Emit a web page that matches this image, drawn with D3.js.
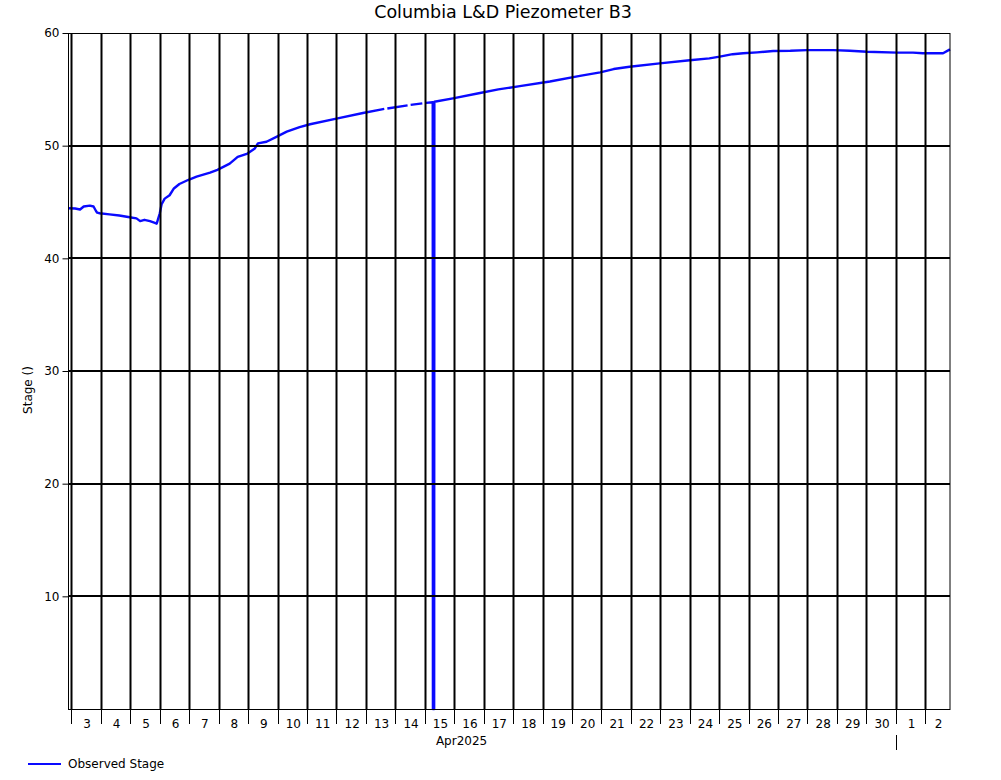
<!DOCTYPE html>
<html><head><meta charset="utf-8">
<script src="https://cdn.jsdelivr.net/npm/d3@7"></script>
<style>
body{margin:0;background:#fff;}
svg{display:block;font-family:"DejaVu Sans",Verdana,sans-serif;}
</style></head>
<body>
<svg id="chart" width="1001" height="780"></svg>
<script>
const title = "Columbia L&D Piezometer B3";
const yLabel = "Stage ()";
const seriesName = "Observed Stage";
const monthLabel = "Apr2025";
const yTicks = [10, 20, 30, 40, 50, 60];
const domainStart = "2025-04-02T22:00";
const domainEnd = "2025-05-02T20:10";
const times = [
 "2025-04-02T22:00","2025-04-03T03:00","2025-04-03T07:00","2025-04-03T10:00","2025-04-03T15:00",
 "2025-04-03T18:00","2025-04-03T20:00","2025-04-03T21:00","2025-04-03T23:00","2025-04-04T07:00",
 "2025-04-04T15:00","2025-04-04T23:30","2025-04-05T05:00","2025-04-05T08:00","2025-04-05T11:30",
 "2025-04-05T16:00","2025-04-05T20:00","2025-04-05T21:30","2025-04-06T00:00","2025-04-06T01:30",
 "2025-04-06T04:00","2025-04-06T08:00","2025-04-06T11:30","2025-04-06T16:00","2025-04-06T23:00",
 "2025-04-07T06:00","2025-04-07T17:00","2025-04-07T23:00","2025-04-08T09:00","2025-04-08T15:30",
 "2025-04-08T23:30","2025-04-09T05:30","2025-04-09T08:00","2025-04-09T15:00","2025-04-09T23:30",
 "2025-04-10T07:30","2025-04-10T18:00","2025-04-11T02:30","2025-04-12T00:00","2025-04-12T21:40",
 "2025-04-13T13:00","2025-04-13T15:00","2025-04-13T16:00","2025-04-13T17:30","2025-04-14T10:00",
 "2025-04-14T11:00","2025-04-14T12:30","2025-04-14T22:00","2025-04-14T23:00","2025-04-15T01:00",
 "2025-04-15T06:30","2025-04-15T06:40","2025-04-15T07:40","2025-04-15T07:50","2025-04-15T23:00",
 "2025-04-16T20:00","2025-04-17T12:00","2025-04-18T05:30","2025-04-19T06:00","2025-04-20T06:30",
 "2025-04-20T23:00","2025-04-21T10:00","2025-04-21T23:00","2025-04-22T23:30","2025-04-24T00:00",
 "2025-04-24T16:00","2025-04-25T00:30","2025-04-25T11:00","2025-04-25T19:30","2025-04-26T07:00",
 "2025-04-26T20:00","2025-04-27T10:00","2025-04-27T23:30","2025-04-28T21:00","2025-04-29T10:30",
 "2025-04-30T00:30","2025-05-01T01:00","2025-05-01T14:00","2025-05-01T22:00","2025-05-02T14:30",
 "2025-05-02T20:10"
];
const stage = [
 44.45,44.42,44.33,44.6,44.68,
 44.6,44.2,44.05,44.0,43.9,
 43.8,43.65,43.55,43.3,43.42,
 43.3,43.15,43.08,44.0,44.8,
 45.3,45.6,46.2,46.6,46.95,
 47.25,47.6,47.85,48.4,49.0,
 49.3,49.75,50.2,50.35,50.8,
 51.24,51.65,51.9,52.4,52.9,
 53.22,53.26,null,53.3,53.58,
 null,53.62,53.75,null,53.8,
 53.85,0,0,53.9,54.2,
 54.65,55.0,55.28,55.7,56.2,
 56.5,56.8,57.0,57.3,57.58,
 57.75,57.9,58.12,58.2,58.28,
 58.4,58.42,58.48,58.48,58.42,
 58.34,58.26,58.26,58.2,58.2,
 58.55
];

const parse = d3.utcParse("%Y-%m-%dT%H:%M");
const data = times.map((t, i) => ({t: parse(t), v: stage[i]}));

const L = 69, R = 950, T = 33, B = 709;
const svg = d3.select("#chart");
const x = d3.scaleUtc().domain([parse(domainStart), parse(domainEnd)]).range([L, R]);
const y = d3.scaleLinear().domain([0, 60]).range([B, T]);

// title
svg.append("text").attr("x", 503).attr("y", 18).attr("text-anchor", "middle")
  .attr("font-size", 17.5).text(title);

// data line
const line = d3.line().defined(d => d.v !== null).x(d => x(d.t)).y(d => y(d.v));
svg.append("path").datum(data).attr("d", line).attr("fill", "none")
  .attr("stroke", "#0a0aff").attr("stroke-width", 2.4).attr("stroke-linejoin", "round");

// grid
const days = d3.utcDay.range(d3.utcDay.ceil(x.domain()[0]), x.domain()[1]);
svg.append("g").selectAll("line").data(days).join("line")
  .attr("x1", d => Math.round(x(d)) + 0.5).attr("x2", d => Math.round(x(d)) + 0.5)
  .attr("y1", T).attr("y2", B).attr("stroke", "#000").attr("stroke-width", 2);
svg.append("g").selectAll("line").data(yTicks.filter(v => v < 60)).join("line")
  .attr("x1", L).attr("x2", R).attr("y1", d => Math.round(y(d))).attr("y2", d => Math.round(y(d)))
  .attr("stroke", "#000").attr("stroke-width", 2);

// frame
svg.append("rect").attr("x", L - 0.5).attr("y", T + 0.5).attr("width", R - L + 0.5).attr("height", B - T)
  .attr("fill", "none").attr("stroke", "#000").attr("stroke-width", 1);

// y axis
const yAxis = d3.axisLeft(y).tickValues(yTicks).tickSize(6).tickPadding(3);
const gy = svg.append("g").attr("transform", `translate(${L - 0.5},0)`).call(yAxis);
gy.select(".domain").remove();
gy.selectAll("text").attr("font-size", 12).attr("font-family", "DejaVu Sans, sans-serif").attr("fill", "#000");
gy.selectAll("line").attr("stroke", "#000");

svg.append("text").attr("transform", "translate(32,390) rotate(-90)").attr("text-anchor", "middle")
  .attr("font-size", 12).text(yLabel);

// x axis: day ticks and centered labels
const gx = svg.append("g");
gx.selectAll("line.tick").data(days).join("line").attr("class", "tick")
  .attr("x1", d => Math.round(x(d)) + 0.5).attr("x2", d => Math.round(x(d)) + 0.5)
  .attr("y1", B).attr("y2", 724).attr("stroke", "#000").attr("stroke-width", 1);
gx.selectAll("text").data(days).join("text")
  .attr("x", d => (x(d) + Math.min(x(d3.utcDay.offset(d, 1)), R)) / 2 + 1)
  .attr("y", 728).attr("text-anchor", "middle").attr("font-size", 12)
  .text(d => d3.utcFormat("%-d")(d));
// month boundary mark
const monthStarts = d3.utcMonth.range(d3.utcMonth.ceil(x.domain()[0]), x.domain()[1]);
gx.selectAll("line.month").data(monthStarts).join("line").attr("class", "month")
  .attr("x1", d => Math.round(x(d)) + 0.5).attr("x2", d => Math.round(x(d)) + 0.5)
  .attr("y1", 735).attr("y2", 750).attr("stroke", "#000").attr("stroke-width", 1);
svg.append("text").attr("x", x(parse("2025-04-16T06:00"))).attr("y", 745)
  .attr("text-anchor", "middle").attr("font-size", 12).text(monthLabel);

// legend
svg.append("line").attr("x1", 28).attr("x2", 61).attr("y1", 764).attr("y2", 764)
  .attr("stroke", "#0a0aff").attr("stroke-width", 2);
svg.append("text").attr("x", 68).attr("y", 768).attr("font-size", 12).text(seriesName);
</script>
</body></html>
